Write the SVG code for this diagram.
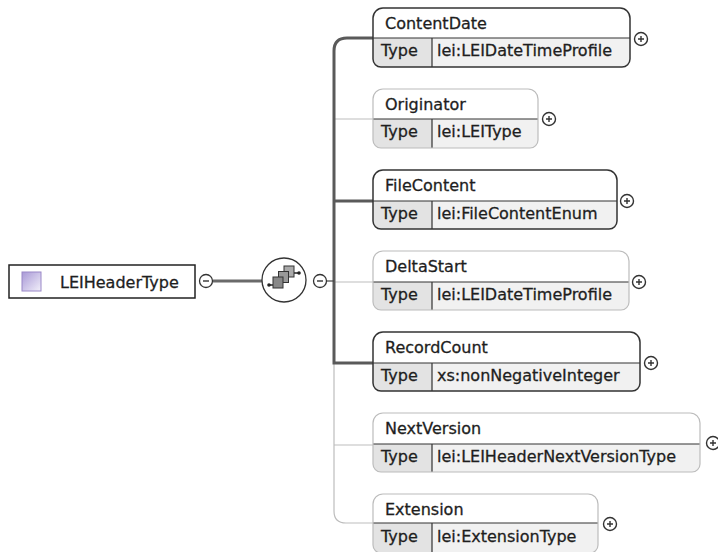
<svg xmlns="http://www.w3.org/2000/svg" width="718" height="552" viewBox="0 0 718 552">
<defs>
<style>
.t{font-family:"DejaVu Sans","Liberation Sans",sans-serif;font-size:16px;fill:#1e1e1e;stroke:#1e1e1e;stroke-width:0.3}
.bg{fill:#fff}
.low{fill:#f1f1f1}
.cell{fill:#e3e3e3}
.div{stroke:#333;stroke-width:1.2;fill:none}
.om{fill:none;stroke:#333;stroke-width:1.5}
.oo{fill:none;stroke:#bcbcbc;stroke-width:1.2}
.pm{fill:#fff;stroke:#333;stroke-width:1.4}
.ps{stroke:#333;stroke-width:1.4}
.thin{fill:none;stroke:#bdbdbd;stroke-width:1.2}
.thick{fill:none;stroke:#5a5a5a;stroke-width:3}
</style>
<linearGradient id="sq" x1="0" y1="0" x2="1" y2="1">
<stop offset="0" stop-color="#a898d6"/>
<stop offset="1" stop-color="#f2f0fa"/>
</linearGradient>
</defs>

<g id="connectors">
<path class="thin" d="M334,363 V511 Q334,523 346,523 H373"/>
<path class="thin" d="M334,119 H373 M334,282 H373 M334,445 H373"/>
<path class="thick" d="M373,38 H347 Q334,38 334,51 V363 H373"/>
<path class="thick" d="M334,201 H373"/>
<path fill="none" stroke="#444" stroke-width="1.2" d="M327,281 H334"/>
<path fill="none" stroke="#6a6a6a" stroke-width="3" d="M213,281 H262"/>
</g>

<g id="LEIHeaderType">
<rect x="9" y="265" width="186" height="33" fill="#fff" stroke="#222" stroke-width="1.5"/>
<rect x="22" y="272" width="19" height="19" fill="url(#sq)" stroke="#9a88c8" stroke-width="1"/>
<text class="t" x="60" y="288">LEIHeaderType</text>
<circle cx="206" cy="281" r="6.5" fill="#fff" stroke="#333" stroke-width="1.3"/>
<path d="M203,281 H209" stroke="#333" stroke-width="1.4"/>
</g>

<g id="sequence">
<circle cx="284" cy="280" r="22" fill="#fff" stroke="#333" stroke-width="1.3"/>
<path d="M269,285 H274 M294,273 H299" stroke="#222" stroke-width="1.3"/>
<circle cx="269" cy="285" r="1.8" fill="#222"/>
<circle cx="299" cy="273" r="1.8" fill="#222"/>
<rect x="284" y="266" width="10" height="11" fill="#aaa" stroke="#333" stroke-width="1"/>
<rect x="278.5" y="271.5" width="10" height="11" fill="#999" stroke="#333" stroke-width="1"/>
<rect x="273" y="277" width="10" height="11" fill="#888" stroke="#333" stroke-width="1"/>
<circle cx="320" cy="281" r="6.5" fill="#fff" stroke="#333" stroke-width="1.3"/>
<path d="M317,281 H323" stroke="#333" stroke-width="1.4"/>
</g>

<g id="ContentDate" transform="translate(373,8)">
<path class="bg" d="M0,10 A10,10 0 0 1 10,0 H247 A10,10 0 0 1 257,10 V51 A8,8 0 0 1 249,59 H8 A8,8 0 0 1 0,51 Z"/>
<path class="low" d="M0,30 H257 V51 A8,8 0 0 1 249,59 H8 A8,8 0 0 1 0,51 Z"/>
<path class="cell" d="M0,30 H59 V59 H8 A8,8 0 0 1 0,51 Z"/>
<path class="div" d="M0,30 H257 M59,30 V59"/>
<path class="om" d="M0,10 A10,10 0 0 1 10,0 H247 A10,10 0 0 1 257,10 V51 A8,8 0 0 1 249,59 H8 A8,8 0 0 1 0,51 Z"/>
<text class="t" x="12" y="21">ContentDate</text>
<text class="t" x="8" y="48">Type</text>
<text class="t" x="64" y="48">lei:LEIDateTimeProfile</text>
<circle class="pm" cx="268" cy="31" r="6.5"/>
<path class="ps" d="M265,31 H271 M268,28 V34"/>
</g>

<g id="Originator" transform="translate(373,89)">
<path class="bg" d="M0,10 A10,10 0 0 1 10,0 H155 A10,10 0 0 1 165,10 V51 A8,8 0 0 1 157,59 H8 A8,8 0 0 1 0,51 Z"/>
<path class="low" d="M0,30 H165 V51 A8,8 0 0 1 157,59 H8 A8,8 0 0 1 0,51 Z"/>
<path class="cell" d="M0,30 H59 V59 H8 A8,8 0 0 1 0,51 Z"/>
<path class="div" d="M0,30 H165 M59,30 V59"/>
<path class="oo" d="M0,10 A10,10 0 0 1 10,0 H155 A10,10 0 0 1 165,10 V51 A8,8 0 0 1 157,59 H8 A8,8 0 0 1 0,51 Z"/>
<text class="t" x="12" y="21">Originator</text>
<text class="t" x="8" y="48">Type</text>
<text class="t" x="64" y="48">lei:LEIType</text>
<circle class="pm" cx="176" cy="30" r="6.5"/>
<path class="ps" d="M173,30 H179 M176,27 V33"/>
</g>

<g id="FileContent" transform="translate(373,170)">
<path class="bg" d="M0,10 A10,10 0 0 1 10,0 H234 A10,10 0 0 1 244,10 V51 A8,8 0 0 1 236,59 H8 A8,8 0 0 1 0,51 Z"/>
<path class="low" d="M0,31 H244 V51 A8,8 0 0 1 236,59 H8 A8,8 0 0 1 0,51 Z"/>
<path class="cell" d="M0,31 H59 V59 H8 A8,8 0 0 1 0,51 Z"/>
<path class="div" d="M0,31 H244 M59,31 V59"/>
<path class="om" d="M0,10 A10,10 0 0 1 10,0 H234 A10,10 0 0 1 244,10 V51 A8,8 0 0 1 236,59 H8 A8,8 0 0 1 0,51 Z"/>
<text class="t" x="12" y="21">FileContent</text>
<text class="t" x="8" y="49">Type</text>
<text class="t" x="64" y="49">lei:FileContentEnum</text>
<circle class="pm" cx="254" cy="31" r="6.5"/>
<path class="ps" d="M251,31 H257 M254,28 V34"/>
</g>

<g id="DeltaStart" transform="translate(373,251)">
<path class="bg" d="M0,10 A10,10 0 0 1 10,0 H246 A10,10 0 0 1 256,10 V51 A8,8 0 0 1 248,59 H8 A8,8 0 0 1 0,51 Z"/>
<path class="low" d="M0,31 H256 V51 A8,8 0 0 1 248,59 H8 A8,8 0 0 1 0,51 Z"/>
<path class="cell" d="M0,31 H59 V59 H8 A8,8 0 0 1 0,51 Z"/>
<path class="div" d="M0,31 H256 M59,31 V59"/>
<path class="oo" d="M0,10 A10,10 0 0 1 10,0 H246 A10,10 0 0 1 256,10 V51 A8,8 0 0 1 248,59 H8 A8,8 0 0 1 0,51 Z"/>
<text class="t" x="12" y="21">DeltaStart</text>
<text class="t" x="8" y="49">Type</text>
<text class="t" x="64" y="49">lei:LEIDateTimeProfile</text>
<circle class="pm" cx="266" cy="31" r="6.5"/>
<path class="ps" d="M263,31 H269 M266,28 V34"/>
</g>

<g id="RecordCount" transform="translate(373,332)">
<path class="bg" d="M0,10 A10,10 0 0 1 10,0 H257 A10,10 0 0 1 267,10 V51 A8,8 0 0 1 259,59 H8 A8,8 0 0 1 0,51 Z"/>
<path class="low" d="M0,31 H267 V51 A8,8 0 0 1 259,59 H8 A8,8 0 0 1 0,51 Z"/>
<path class="cell" d="M0,31 H59 V59 H8 A8,8 0 0 1 0,51 Z"/>
<path class="div" d="M0,31 H267 M59,31 V59"/>
<path class="om" d="M0,10 A10,10 0 0 1 10,0 H257 A10,10 0 0 1 267,10 V51 A8,8 0 0 1 259,59 H8 A8,8 0 0 1 0,51 Z"/>
<text class="t" x="12" y="21">RecordCount</text>
<text class="t" x="8" y="49">Type</text>
<text class="t" x="64" y="49">xs:nonNegativeInteger</text>
<circle class="pm" cx="278" cy="31" r="6.5"/>
<path class="ps" d="M275,31 H281 M278,28 V34"/>
</g>

<g id="NextVersion" transform="translate(373,413)">
<path class="bg" d="M0,10 A10,10 0 0 1 10,0 H317 A10,10 0 0 1 327,10 V51 A8,8 0 0 1 319,59 H8 A8,8 0 0 1 0,51 Z"/>
<path class="low" d="M0,31 H327 V51 A8,8 0 0 1 319,59 H8 A8,8 0 0 1 0,51 Z"/>
<path class="cell" d="M0,31 H59 V59 H8 A8,8 0 0 1 0,51 Z"/>
<path class="div" d="M0,31 H327 M59,31 V59"/>
<path class="oo" d="M0,10 A10,10 0 0 1 10,0 H317 A10,10 0 0 1 327,10 V51 A8,8 0 0 1 319,59 H8 A8,8 0 0 1 0,51 Z"/>
<text class="t" x="12" y="21">NextVersion</text>
<text class="t" x="8" y="49">Type</text>
<text class="t" x="64" y="49">lei:LEIHeaderNextVersionType</text>
<circle class="pm" cx="340" cy="30" r="6.5"/>
<path class="ps" d="M337,30 H343 M340,27 V33"/>
</g>

<g id="Extension" transform="translate(373,494)">
<path class="bg" d="M0,10 A10,10 0 0 1 10,0 H215 A10,10 0 0 1 225,10 V51 A8,8 0 0 1 217,59 H8 A8,8 0 0 1 0,51 Z"/>
<path class="low" d="M0,29 H225 V51 A8,8 0 0 1 217,59 H8 A8,8 0 0 1 0,51 Z"/>
<path class="cell" d="M0,29 H59 V59 H8 A8,8 0 0 1 0,51 Z"/>
<path class="div" d="M0,29 H225 M59,29 V59"/>
<path class="oo" d="M0,10 A10,10 0 0 1 10,0 H215 A10,10 0 0 1 225,10 V51 A8,8 0 0 1 217,59 H8 A8,8 0 0 1 0,51 Z"/>
<text class="t" x="12" y="21">Extension</text>
<text class="t" x="8" y="48">Type</text>
<text class="t" x="64" y="48">lei:ExtensionType</text>
<circle class="pm" cx="237" cy="30" r="6.5"/>
<path class="ps" d="M234,30 H240 M237,27 V33"/>
</g>
</svg>
